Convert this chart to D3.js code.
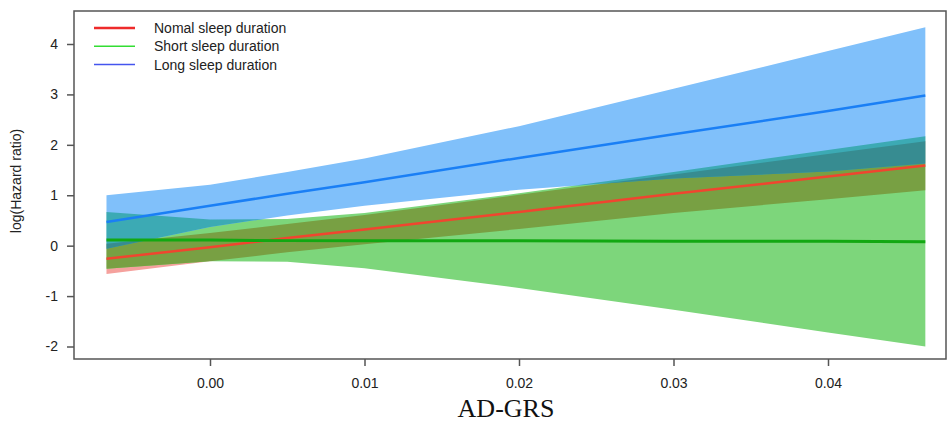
<!DOCTYPE html>
<html>
<head>
<meta charset="utf-8">
<script src="https://cdn.jsdelivr.net/npm/d3@7"></script>
<style>
  body { margin: 0; background: #fff; }
  svg { display: block; font-family: "Liberation Sans", Arial, sans-serif; }
</style>
</head>
<body>
<div id="chart"></div>
<script>
// AD-GRS values where the curves were read
const grs = [-0.0067, 0, 0.005, 0.01, 0.02, 0.03, 0.04, 0.0463];

// Normal sleep duration
const normalFit = [-0.26, -0.03, 0.15, 0.32, 0.67, 1.03, 1.37, 1.59];
const normalLow = [-0.56, -0.31, -0.13, 0.03, 0.33, 0.65, 0.92, 1.10];
const normalHigh = [0.04, 0.25, 0.43, 0.61, 1.01, 1.41, 1.82, 2.07];

// Short sleep duration
const shortFit = [0.11, 0.11, 0.10, 0.10, 0.10, 0.09, 0.09, 0.08];
const shortLow = [-0.46, -0.31, -0.32, -0.45, -0.84, -1.27, -1.72, -2.00];
const shortHigh = [0.67, 0.52, 0.53, 0.65, 1.04, 1.46, 1.90, 2.17];

// Long sleep duration
const longFit = [0.47, 0.79, 1.03, 1.26, 1.74, 2.21, 2.67, 2.98];
const longLow = [-0.06, 0.37, 0.60, 0.79, 1.11, 1.33, 1.47, 1.63];
const longHigh = [1.00, 1.21, 1.46, 1.73, 2.37, 3.11, 3.86, 4.33];

const legendLabels = ["Nomal sleep duration", "Short sleep duration", "Long sleep duration"];
const xTicks = [0, 0.01, 0.02, 0.03, 0.04];
const yTicks = [-2, -1, 0, 1, 2, 3, 4];

const width = 948, height = 423;
const box = { left: 74, right: 946, top: 11, bottom: 359 };

const svg = d3.select("#chart")
    .append("svg")
    .attr("width", width)
    .attr("height", height);

const x = d3.scaleLinear().domain([0, 0.04]).range([210, 828]);
const y = d3.scaleLinear().domain([-2, 4]).range([346.5, 44]);

const rows = (fit, lo, hi) => grs.map((g, i) => ({ g, fit: fit[i], lo: lo[i], hi: hi[i] }));
const normal = rows(normalFit, normalLow, normalHigh);
const short = rows(shortFit, shortLow, shortHigh);
const long = rows(longFit, longLow, longHigh);

const band = d3.area()
    .x(d => x(d.g))
    .y0(d => y(d.lo))
    .y1(d => y(d.hi));

const line = d3.line()
    .x(d => x(d.g))
    .y(d => y(d.fit));

// clip paths for the overlap colours
const defs = svg.append("defs");
[["clip-normal", normal], ["clip-short", short], ["clip-long", long]].forEach(([id, data]) => {
    defs.append("clipPath").attr("id", id)
        .append("path").attr("d", band(data));
});

const bands = svg.append("g");
bands.append("path").attr("d", band(normal)).attr("fill", "#f5a19d");
bands.append("path").attr("d", band(short)).attr("fill", "#7dd67b");
bands.append("path").attr("d", band(long)).attr("fill", "#80c0fa");

// long + normal
bands.append("g").attr("clip-path", "url(#clip-normal)")
    .append("path").attr("d", band(long)).attr("fill", "#9a8fc4");
// short + normal
bands.append("g").attr("clip-path", "url(#clip-normal)")
    .append("path").attr("d", band(short)).attr("fill", "#78a043");
// long + short
bands.append("g").attr("clip-path", "url(#clip-short)")
    .append("path").attr("d", band(long)).attr("fill", "#3caab4");
// all three
bands.append("g").attr("clip-path", "url(#clip-normal)")
    .append("g").attr("clip-path", "url(#clip-short)")
    .append("path").attr("d", band(long)).attr("fill", "#378c91");

// fitted lines
svg.append("path").attr("d", line(long))
    .attr("fill", "none").attr("stroke", "#1a7ff5").attr("stroke-width", 2.5);
svg.append("path").attr("d", line(normal))
    .attr("fill", "none").attr("stroke", "#f0452f").attr("stroke-width", 2.5);
svg.append("path").attr("d", line(short))
    .attr("fill", "none").attr("stroke", "#12a812").attr("stroke-width", 3);

// frame
svg.append("rect")
    .attr("x", box.left).attr("y", box.top)
    .attr("width", box.right - box.left).attr("height", box.bottom - box.top)
    .attr("fill", "none").attr("stroke", "#555").attr("stroke-width", 1.5);

// Y axis
const yAxis = svg.append("g")
    .attr("transform", `translate(${box.left},0)`)
    .call(d3.axisLeft(y).tickValues(yTicks).tickSize(7).tickPadding(9).tickFormat(d => String(d)));
yAxis.select(".domain").remove();
yAxis.selectAll("line").attr("stroke", "#555").attr("stroke-width", 1.5);
yAxis.selectAll("text").attr("font-size", 14).attr("fill", "#222")
    .attr("font-family", "'Liberation Sans', Arial, sans-serif");

// X axis
const xAxis = svg.append("g")
    .attr("transform", `translate(0,${box.bottom})`)
    .call(d3.axisBottom(x).tickValues(xTicks).tickSize(7).tickPadding(12).tickFormat(d3.format(".2f")));
xAxis.select(".domain").remove();
xAxis.selectAll("line").attr("stroke", "#555").attr("stroke-width", 1.5);
xAxis.selectAll("text").attr("font-size", 14).attr("fill", "#222")
    .attr("font-family", "'Liberation Sans', Arial, sans-serif");

// axis titles
svg.append("text")
    .attr("x", 506).attr("y", 417)
    .attr("text-anchor", "middle")
    .attr("font-family", "'Liberation Serif', 'Times New Roman', serif")
    .attr("font-size", 26).attr("fill", "#111")
    .text("AD-GRS");

svg.append("text")
    .attr("transform", "translate(21,181) rotate(-90)")
    .attr("text-anchor", "middle")
    .attr("font-size", 14).attr("fill", "#222")
    .text("log(Hazard ratio)");

// legend
const legendColors = ["#ee2b2b", "#33dd33", "#4455ee"];
const legendWidths = [2.5, 1.5, 1.5];
const legend = svg.append("g");
legendLabels.forEach((label, i) => {
    const ly = 28 + i * 18.3;
    legend.append("line")
        .attr("x1", 94).attr("x2", 135).attr("y1", ly).attr("y2", ly)
        .attr("stroke", legendColors[i]).attr("stroke-width", legendWidths[i]);
    legend.append("text")
        .attr("x", 154).attr("y", ly + 5)
        .attr("font-size", 14).attr("fill", "#222")
        .text(label);
});
</script>
</body>
</html>
